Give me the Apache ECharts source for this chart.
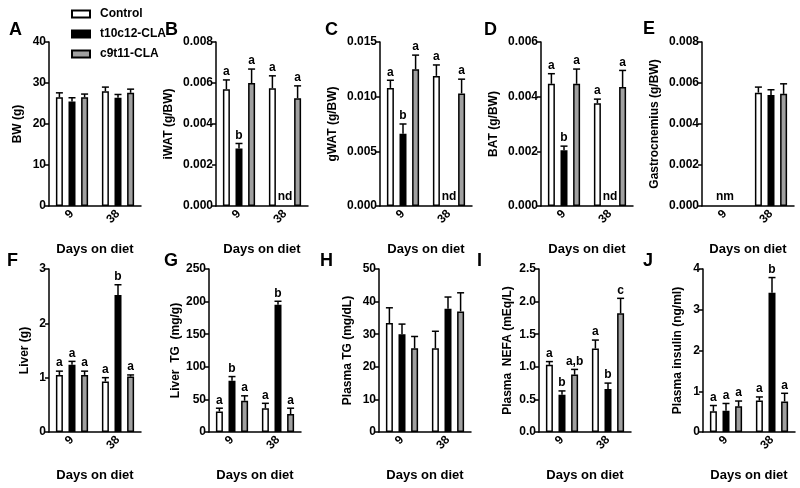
<!DOCTYPE html>
<html><head><meta charset="utf-8">
<script src="https://cdn.jsdelivr.net/npm/echarts@6/dist/echarts.min.js"></script>
<style>html,body{margin:0;padding:0;background:#fff}#c{width:800px;height:488px}</style>
</head><body><div id="c"></div>
<script>
// ---------- data ----------
const categories = ['9', '38'];
const groupNames = ['Control', 't10c12-CLA', 'c9t11-CLA'];
// rows: Control, t10c12-CLA, c9t11-CLA ; columns: day 9, day 38
const bwMean = [[26.5, 28.0], [25.5, 26.4], [26.5, 27.6]];
const bwErr = [[1.1, 1.0], [0.9, 0.8], [0.8, 0.9]];
const bwLetters = [['', ''], ['', ''], ['', '']];

const iwatMean = [[0.0057, 0.00575], [0.0028, null], [0.0060, 0.00526]];
const iwatErr = [[0.00045, 0.0006], [0.00025, 0], [0.00068, 0.0006]];
const iwatLetters = [['a', 'a'], ['b', 'nd'], ['a', 'a']];

const gwatMean = [[0.0108, 0.0119], [0.0066, null], [0.0125, 0.0103]];
const gwatErr = [[0.0007, 0.001], [0.0009, 0], [0.0013, 0.0013]];
const gwatLetters = [['a', 'a'], ['b', 'nd'], ['a', 'a']];

const batMean = [[0.00447, 0.00376], [0.00204, null], [0.00447, 0.00435]];
const batErr = [[0.00037, 0.00015], [0.00015, 0], [0.00054, 0.00061]];
const batLetters = [['a', 'a'], ['b', 'nd'], ['a', 'a']];

const gastroMean = [[null, 0.00553], [null, 0.00542], [null, 0.00547]];
const gastroErr = [[0, 0.00027], [0, 0.00025], [0, 0.00049]];
const gastroLetters = [['', ''], ['nm', ''], ['', '']];

const liverMean = [[1.05, 0.93], [1.24, 2.52], [1.05, 1.02]];
const liverErr = [[0.07, 0.07], [0.06, 0.19], [0.07, 0.03]];
const liverLetters = [['a', 'a'], ['a', 'b'], ['a', 'a']];

const liverTgMean = [[31.5, 36.5], [78.5, 195], [48, 27.5]];
const liverTgErr = [[5, 7.5], [6.5, 5.5], [7.5, 9]];
const liverTgLetters = [['a', 'a'], ['b', 'b'], ['a', 'a']];

const plasmaTgMean = [[33.4, 25.7], [30, 37.8], [25.7, 37]];
const plasmaTgErr = [[4.7, 5.2], [3.1, 3.6], [3.6, 5.7]];
const plasmaTgLetters = [['', ''], ['', ''], ['', '']];

const nefaMean = [[1.03, 1.28], [0.57, 0.66], [0.88, 1.82]];
const nefaErr = [[0.05, 0.13], [0.06, 0.09], [0.08, 0.23]];
const nefaLetters = [['a', 'a'], ['b', 'b'], ['a,b', 'c']];

const insulinMean = [[0.51, 0.77], [0.52, 3.42], [0.63, 0.75]];
const insulinErr = [[0.14, 0.09], [0.18, 0.37], [0.13, 0.2]];
const insulinLetters = [['a', 'a'], ['a', 'b'], ['a', 'a']];

// y-axis ranges: [max, interval, decimals]
const bwAxis = [40, 10, 0];
const iwatAxis = [0.008, 0.002, 3];
const gwatAxis = [0.015, 0.005, 3];
const batAxis = [0.006, 0.002, 3];
const gastroAxis = [0.008, 0.002, 3];
const liverAxis = [3, 1, 0];
const liverTgAxis = [250, 50, 0];
const plasmaTgAxis = [50, 10, 0];
const nefaAxis = [2.5, 0.5, 1];
const insulinAxis = [4, 1, 0];

const panels = [
  { letter: 'A', yName: 'BW (g)', mean: bwMean, err: bwErr, letters: bwLetters, axis: bwAxis },
  { letter: 'B', yName: 'iWAT (g/BW)', mean: iwatMean, err: iwatErr, letters: iwatLetters, axis: iwatAxis },
  { letter: 'C', yName: 'gWAT (g/BW)', mean: gwatMean, err: gwatErr, letters: gwatLetters, axis: gwatAxis },
  { letter: 'D', yName: 'BAT (g/BW)', mean: batMean, err: batErr, letters: batLetters, axis: batAxis },
  { letter: 'E', yName: 'Gastrocnemius (g/BW)', mean: gastroMean, err: gastroErr, letters: gastroLetters, axis: gastroAxis },
  { letter: 'F', yName: 'Liver (g)', mean: liverMean, err: liverErr, letters: liverLetters, axis: liverAxis },
  { letter: 'G', yName: 'Liver  TG  (mg/g)', mean: liverTgMean, err: liverTgErr, letters: liverTgLetters, axis: liverTgAxis },
  { letter: 'H', yName: 'Plasma TG (mg/dL)', mean: plasmaTgMean, err: plasmaTgErr, letters: plasmaTgLetters, axis: plasmaTgAxis },
  { letter: 'I', yName: 'Plasma  NEFA (mEq/L)', mean: nefaMean, err: nefaErr, letters: nefaLetters, axis: nefaAxis },
  { letter: 'J', yName: 'Plasma insulin (ng/ml)', mean: insulinMean, err: insulinErr, letters: insulinLetters, axis: insulinAxis }
];

// ---------- layout / style ----------
const FONT = '"Liberation Sans", Arial, Helvetica, sans-serif';
const rowLayout = [{ top: 42, height: 164 }, { top: 269, height: 163 }];
const lefts = [49, 216, 380, 541, 702, 49, 209, 379, 539, 703];
const GRID_W = 92;
const nameGaps = [25, 41, 41, 41, 41, 18, 26, 25, 25, 19];
const letterPos = [[16, 31], [172, 31], [332, 31], [491, 31], [650, 30], [14, 262], [171, 262], [327, 262], [484, 262], [650, 262]];
const barColors = ['#ffffff', '#000000', '#a0a0a0'];
const BAR_W = 7, BAR_GAP = 0.8;

const grids = [], xAxes = [], yAxes = [], series = [], graphics = [];

panels.forEach((p, i) => {
  const row = i < 5 ? 0 : 1;
  grids.push({ left: lefts[i], width: GRID_W, top: rowLayout[row].top, height: rowLayout[row].height, containLabel: false });
  xAxes.push({
    type: 'category', gridIndex: i, data: categories,
    axisLine: { lineStyle: { color: '#000', width: 1.5 } },
    axisTick: { alignWithLabel: true, length: 4, lineStyle: { color: '#000', width: 1.5 } },
    axisLabel: { rotate: 45, interval: 0, margin: 6, color: '#000', fontWeight: 'bold', fontSize: 12, fontFamily: FONT },
    name: 'Days on diet', nameLocation: 'middle', nameGap: 37,
    nameTextStyle: { color: '#000', fontWeight: 'bold', fontSize: 13, fontFamily: FONT }
  });
  const dec = p.axis[2];
  yAxes.push({
    type: 'value', gridIndex: i, min: 0, max: p.axis[0], interval: p.axis[1],
    axisLine: { show: true, lineStyle: { color: '#000', width: 1.5 } },
    axisTick: { show: true, length: 4, lineStyle: { color: '#000', width: 1.5 } },
    axisLabel: { formatter: v => Number(v).toFixed(dec), margin: 3, color: '#000', fontWeight: 'bold', fontSize: 12, fontFamily: FONT },
    splitLine: { show: false },
    name: p.yName, nameLocation: 'middle', nameRotate: 90, nameGap: nameGaps[i],
    nameTextStyle: { color: '#000', fontWeight: 'bold', fontSize: 12, fontFamily: FONT }
  });
  groupNames.forEach((g, si) => {
    series.push({
      type: 'bar', name: g, xAxisIndex: i, yAxisIndex: i, data: p.mean[si],
      barWidth: BAR_W, barGap: (BAR_GAP * 100) + '%',
      itemStyle: { color: barColors[si], borderColor: '#000', borderWidth: 1.5 },
      silent: true, z: 2
    });
  });
  const items = [];
  categories.forEach((c, ci) => groupNames.forEach((g, si) => items.push([ci, 0, si])));
  series.push({
    type: 'custom', name: 'err' + i, xAxisIndex: i, yAxisIndex: i, z: 5, silent: true,
    encode: { x: 0, y: 1 }, data: items,
    renderItem: function (params, api) {
      const it = items[params.dataIndex];
      const ci = it[0], si = it[2];
      const m = p.mean[si][ci], e = p.err[si][ci], lab = p.letters[si][ci];
      const spacing = BAR_W * (1 + BAR_GAP);
      const x = api.coord([ci, 0])[0] + (si - 1) * spacing;
      const children = [];
      let ty;
      if (m == null) {
        ty = api.coord([ci, 0])[1] - 3;
      } else {
        const y0 = api.coord([ci, m])[1];
        const y1 = api.coord([ci, m + e])[1];
        children.push({ type: 'line', shape: { x1: x, y1: y0, x2: x, y2: y1 }, style: { stroke: '#000', lineWidth: 1.5 } });
        children.push({ type: 'line', shape: { x1: x - 3.5, y1: y1, x2: x + 3.5, y2: y1 }, style: { stroke: '#000', lineWidth: 1.5 } });
        ty = y1 - 2;
      }
      if (lab) {
        children.push({ type: 'text', x: x, y: ty, style: { text: lab, align: 'center', verticalAlign: 'bottom', textAlign: 'center', textVerticalAlign: 'bottom', fill: '#000', font: 'bold 12px ' + FONT } });
      }
      return { type: 'group', children: children };
    }
  });
  graphics.push({
    type: 'text', left: letterPos[i][0] - 7, top: letterPos[i][1] - 10,
    style: { text: p.letter, fill: '#000', font: 'bold 18px ' + FONT }
  });
});

const chart = echarts.init(document.getElementById('c'), null, { renderer: 'canvas' });
chart.setOption({
  backgroundColor: '#fff',
  animation: false,
  legend: {
    data: groupNames, orient: 'vertical', left: 66, top: 3,
    icon: 'rect', itemWidth: 18, itemHeight: 7, itemGap: 8,
    textStyle: { color: '#000', fontWeight: 'bold', fontSize: 12, fontFamily: FONT, padding: [0, 0, 0, 5] },
    selectedMode: false
  },
  grid: grids, xAxis: xAxes, yAxis: yAxes, series: series, graphic: graphics
});
</script>
</body></html>
